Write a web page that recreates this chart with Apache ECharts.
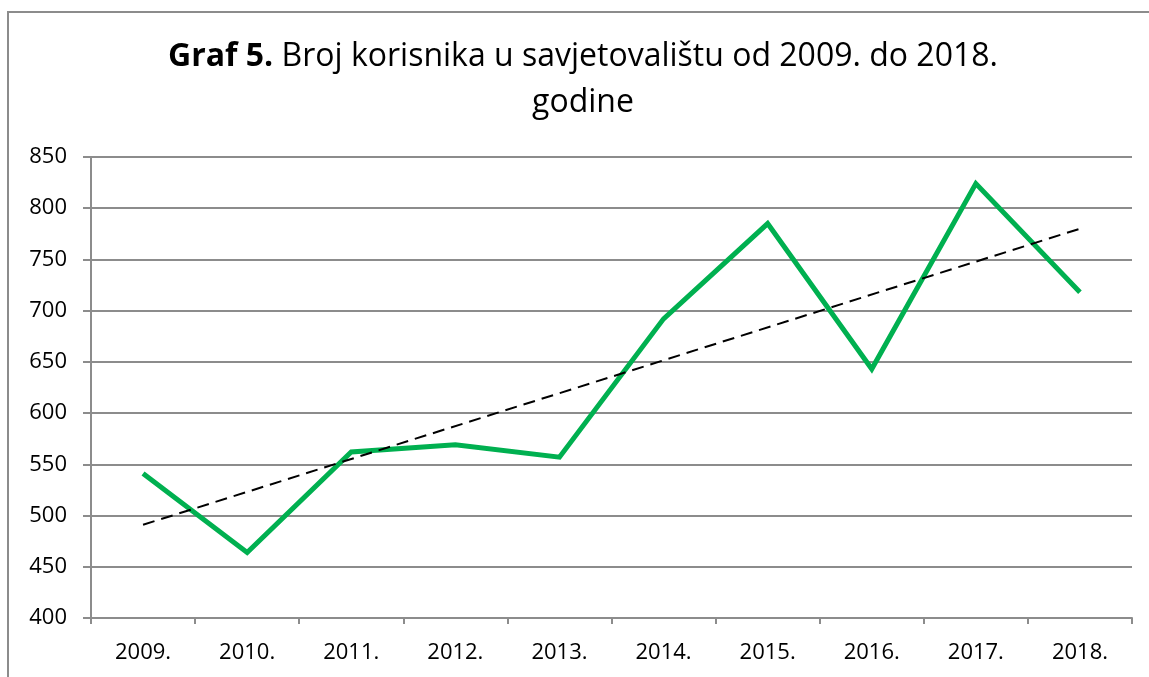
<!DOCTYPE html>
<html>
<head>
<meta charset="utf-8">
<title>Graf 5</title>
<script src="https://cdn.jsdelivr.net/npm/echarts@6/dist/echarts.min.js"></script>
<style>
  html, body { margin: 0; padding: 0; background: #fff; }
  #chart { width: 1149px; height: 677px; }
</style>
</head>
<body>
<div id="chart"></div>
<script>
// podaci
var years = ['2009.', '2010.', '2011.', '2012.', '2013.', '2014.', '2015.', '2016.', '2017.', '2018.'];
var users = [541, 464, 562, 569, 557, 692, 785, 643, 824, 718];
// linija trenda (početak i kraj, očitano s grafa)
var trendEnds = [491, 780];
var yTicks = { min: 400, max: 850, step: 50 };

var FONT = '"Open Sans", Lato, sans-serif';
var GRAY = '#8c8c8c';

var chart = echarts.init(document.getElementById('chart'));

chart.setOption({
  animation: false,
  graphic: [
    {
      type: 'rect',
      shape: { x: 8, y: 12, width: 1200, height: 720 },
      style: { fill: 'none', stroke: GRAY, lineWidth: 2 },
      silent: true
    },
    {
      type: 'text',
      x: 583,
      y: 80,
      style: {
        text: '{b|Graf 5.} Broj korisnika u savjetovalištu od 2009. do 2018.\ngodine',
        align: 'center',
        verticalAlign: 'middle',
        fill: '#000',
        font: '32px ' + FONT,
        lineHeight: 46,
        rich: {
          b: { fontWeight: 'bold', fontSize: 32, fontFamily: FONT, fill: '#000', lineHeight: 46 }
        }
      }
    }
  ],
  grid: { left: 91, right: 17, top: 157, bottom: 59 },
  xAxis: {
    type: 'category',
    data: years,
    boundaryGap: true,
    axisLine: { lineStyle: { color: GRAY, width: 2 } },
    axisTick: { show: true, length: 6, lineStyle: { color: GRAY, width: 2 } },
    axisLabel: { color: '#000', fontSize: 22, fontFamily: FONT, margin: 24 }
  },
  yAxis: {
    type: 'value',
    min: yTicks.min,
    max: yTicks.max,
    interval: yTicks.step,
    axisLine: { show: true, lineStyle: { color: GRAY, width: 2 } },
    axisTick: { show: true, length: 8, lineStyle: { color: GRAY, width: 2 } },
    axisLabel: { color: '#000', fontSize: 22, fontFamily: FONT, margin: 24 },
    splitLine: { lineStyle: { color: GRAY, width: 2 } }
  },
  series: [
    {
      name: 'Broj korisnika',
      type: 'line',
      data: users,
      symbol: 'none',
      lineStyle: { color: '#00b050', width: 5, join: 'miter' },
      z: 3,
      markLine: {
        silent: true,
        symbol: ['none', 'none'],
        label: { show: false },
        lineStyle: { color: '#000', width: 2, type: [12, 7] },
        data: [[
          { coord: [years[0], trendEnds[0]] },
          { coord: [years[years.length - 1], trendEnds[1]] }
        ]]
      }
    }
  ]
});
</script>
</body>
</html>
